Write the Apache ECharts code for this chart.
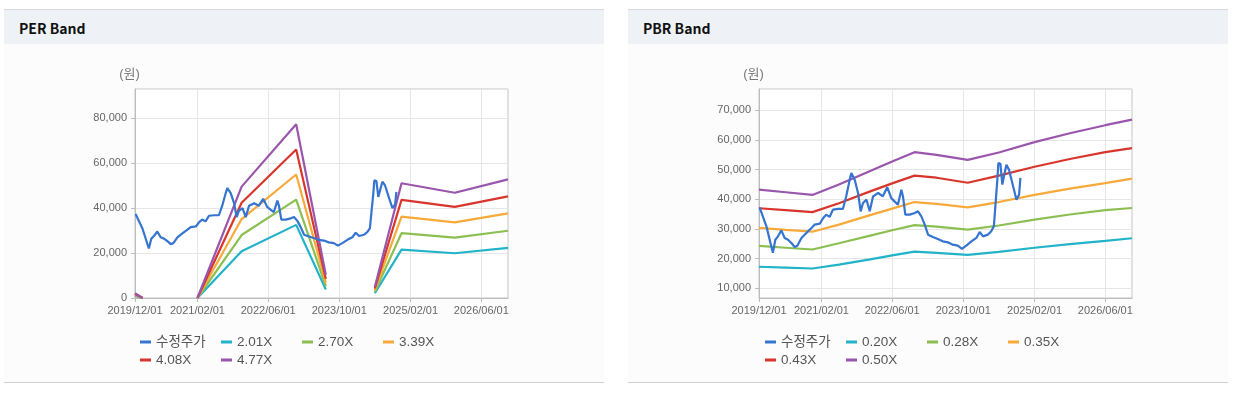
<!DOCTYPE html>
<html>
<head>
<meta charset="utf-8">
<script src="https://cdn.jsdelivr.net/npm/echarts@6/dist/echarts.min.js"></script>
<style>
body{margin:0;background:#fff;width:1239px;height:393px;overflow:hidden;font-family:"Noto Sans CJK KR","Noto Sans",sans-serif}
.panel{position:absolute;top:9px;width:600px;height:372px;border-top:1px solid #d9d9d9;border-bottom:1px solid #d0d0d0;background:#fcfcfc}
.head{height:34px;background:#eef2f7;font-weight:bold;font-size:14px;line-height:36px;padding-left:15px;color:#111}
#chart{position:absolute;left:0;top:0;width:1239px;height:393px}
</style>
</head>
<body>
<div class="panel" style="left:4px"><div class="head">PER Band</div></div>
<div class="panel" style="left:628px"><div class="head">PBR Band</div></div>
<div id="chart"></div>
<script>
// x axis
var xStart = '2019-12-01', xEnd = '2026-12-01';
var xTickDates = ['2019-12-01', '2021-02-01', '2022-06-01', '2023-10-01', '2025-02-01', '2026-06-01'];

// 수정주가 (same in both charts)
var priceDates = ['2019-12-05', '2020-01-21', '2020-03-05', '2020-03-22', '2020-04-09', '2020-05-02', '2020-05-25', '2020-06-17',
    '2020-07-10', '2020-08-02', '2020-08-20', '2020-09-17', '2020-10-21', '2020-11-25', '2020-12-17', '2021-01-21',
    '2021-02-13', '2021-03-06', '2021-03-29', '2021-04-21', '2021-05-25', '2021-06-28', '2021-07-21', '2021-08-14',
    '2021-08-25', '2021-09-17', '2021-10-10', '2021-10-28', '2021-11-13', '2021-12-07', '2021-12-29', '2022-01-21',
    '2022-02-25', '2022-03-29', '2022-04-28', '2022-05-25', '2022-06-17', '2022-07-10', '2022-08-03', '2022-08-14',
    '2022-08-30', '2022-09-29', '2022-11-03', '2022-11-25', '2022-12-18', '2023-01-10', '2023-02-02', '2023-03-07',
    '2023-04-10', '2023-05-14', '2023-06-18', '2023-07-21', '2023-08-25', '2023-09-22', '2023-10-22', '2023-11-26',
    '2023-12-30', '2024-01-22', '2024-02-14', '2024-03-18', '2024-04-10', '2024-04-28', '2024-05-10', '2024-05-21',
    '2024-05-29', '2024-06-12', '2024-06-25', '2024-07-11', '2024-07-23', '2024-08-10', '2024-09-07', '2024-09-30',
    '2024-10-18', '2024-10-27'];
var priceValues = [37300, 30900, 22000, 26400, 27550, 29560, 27000, 26400,
    25300, 23950, 24400, 27000, 28700, 30370, 31500, 31800,
    33740, 34850, 34070, 36550, 36780, 36780, 41030, 46650,
    48900, 46650, 42150, 35970, 38800, 39900, 35970, 41030,
    42150, 41030, 44100, 40500, 39330, 38220, 43270, 41000,
    34850, 34850, 35420, 35970, 34280, 31500, 28110, 27330,
    26660, 25850, 25520, 24740, 24400, 23290, 24400, 25850,
    27000, 29000, 27540, 28110, 29230, 30900, 38800, 46000,
    52270, 52000, 44960, 48900, 51700, 50020, 44400, 39900,
    41600, 47220];

// PER band ('-' = no value)
var perDates = ['2019-12-01', '2020-01-22', '2020-06-01', '2021-02-01', '2021-12-01', '2022-12-10', '2023-07-01',
    '2024-01-01', '2024-06-01', '2024-12-01', '2025-12-01', '2026-12-01'];
var per201 = [900, 0, '-', 0, 20800, 32500, 3800, '-', 2100, 21500, 19900, 22300];
var per270 = [1200, 0, '-', 0, 28000, 43700, 5300, '-', 2800, 28800, 26800, 29900];
var per339 = [1500, 0, '-', 0, 35100, 54900, 6800, '-', 3500, 36200, 33600, 37600];
var per408 = [1800, 0, '-', 0, 42300, 66000, 8500, '-', 4200, 43600, 40500, 45200];
var per477 = [2100, 0, '-', 0, 49500, 77200, 10300, '-', 4900, 51000, 46800, 52700];

// PBR band
var pbrDates = ['2019-12-01', '2020-06-01', '2020-12-01', '2021-06-01', '2022-01-01', '2022-06-01', '2022-11-01',
    '2023-04-01', '2023-11-01', '2024-06-01', '2025-02-01', '2025-10-01', '2026-06-01', '2026-12-01'];
var pbr020 = [17300, 17000, 16700, 18000, 19800, 21100, 22400, 22000, 21300, 22300, 23700, 24900, 26000, 26900];
var pbr028 = [24300, 23700, 23100, 25200, 27800, 29600, 31300, 30800, 29800, 31200, 33200, 34900, 36400, 37100];
var pbr035 = [30400, 29700, 29100, 31500, 34700, 36900, 39100, 38500, 37300, 39100, 41500, 43600, 45500, 47000];
var pbr043 = [37000, 36400, 35700, 38700, 42700, 45400, 48000, 47300, 45600, 48000, 51000, 53600, 55900, 57300];
var pbr050 = [43300, 42400, 41500, 45000, 49600, 52800, 55900, 55000, 53300, 55800, 59300, 62300, 65000, 66900];

var perNames = ['2.01X', '2.70X', '3.39X', '4.08X', '4.77X'];
var pbrNames = ['0.20X', '0.28X', '0.35X', '0.43X', '0.50X'];
var bandColors = ['#22b3c9', '#8cbf52', '#f7aa3a', '#d8352c', '#9a56ac'];
var priceColor = '#3574cf';
var font = '"Liberation Sans", "Noto Sans CJK KR", sans-serif';

function ts(s) {
    var p = s.split('-');
    return new Date(+p[0], +p[1] - 1, +p[2]).getTime();
}
function pad(n) { return n < 10 ? '0' + n : '' + n; }
function fmtDate(v) {
    var d = new Date(v);
    return d.getFullYear() + '/' + pad(d.getMonth() + 1) + '/' + pad(d.getDate());
}
function pairs(dates, vals) {
    return dates.map(function (d, i) { return [ts(d), vals[i]]; });
}

var tickVals = xTickDates.map(ts);
var gridLeft = [135, 759];

// dates as timestamps on a linear axis, ticks only at the six label dates
function xAxis(idx) {
    return {
        type: 'value', gridIndex: idx, min: ts(xStart), max: ts(xEnd), scale: true,
        axisLine: {lineStyle: {color: '#bdbdbd'}},
        axisTick: {show: true, length: 4, customValues: tickVals, lineStyle: {color: '#bdbdbd'}},
        axisLabel: {customValues: tickVals, formatter: fmtDate, color: '#666', fontSize: 11, fontFamily: font, margin: 7},
        splitLine: {show: true, lineStyle: {color: '#e6e6e6'}}
    };
}
function yAxis(idx, opts) {
    var a = {
        type: 'value', gridIndex: idx, name: '(원)', nameLocation: 'end', nameGap: 8,
        nameTextStyle: {color: '#777', fontSize: 13, fontFamily: font, align: 'center', padding: [0, 11, 0, 0]},
        axisLine: {show: true, lineStyle: {color: '#bdbdbd'}},
        axisTick: {show: true, length: 4, lineStyle: {color: '#bdbdbd'}},
        axisLabel: {color: '#666', fontSize: 11, fontFamily: font, margin: 8, showMinLabel: opts.showMin, showMaxLabel: false},
        splitLine: {show: true, lineStyle: {color: '#e6e6e6'}}
    };
    for (var k in opts.range) a[k] = opts.range[k];
    return a;
}
// four fixed 81px columns: marker 11 + gap 5 + text 65
function legend(left, names) {
    return {
        left: left, top: 333, width: 330, padding: 0, orient: 'horizontal', icon: 'rect',
        itemWidth: 11, itemHeight: 3, itemGap: 0,
        data: ['수정주가'].concat(names),
        textStyle: {width: 65, fontSize: 13.5, lineHeight: 18, color: '#555', fontFamily: font}
    };
}
function line(name, idx, data, color) {
    return {
        name: name, type: 'line', xAxisIndex: idx, yAxisIndex: idx, data: data,
        showSymbol: false, symbol: 'none', connectNulls: false, animation: false,
        lineStyle: {width: 2.2, color: color}, itemStyle: {color: color}
    };
}

var perBands = [per201, per270, per339, per408, per477];
var pbrBands = [pbr020, pbr028, pbr035, pbr043, pbr050];
var series = [];
perBands.forEach(function (vals, i) {
    series.push(line(perNames[i], 0, pairs(perDates, vals), bandColors[i]));
});
series.push(line('수정주가', 0, pairs(priceDates, priceValues), priceColor));
pbrBands.forEach(function (vals, i) {
    series.push(line(pbrNames[i], 1, pairs(pbrDates, vals), bandColors[i]));
});
series.push(line('수정주가', 1, pairs(priceDates, priceValues), priceColor));

var myChart = echarts.init(document.getElementById('chart'));
myChart.setOption({
    animation: false,
    grid: [
        {left: gridLeft[0], top: 89, width: 373, height: 209, show: true, borderColor: '#c4c4c4', backgroundColor: '#fff'},
        {left: gridLeft[1], top: 89, width: 373, height: 209, show: true, borderColor: '#c4c4c4', backgroundColor: '#fff'}
    ],
    xAxis: [xAxis(0), xAxis(1)],
    yAxis: [
        yAxis(0, {showMin: true, range: {min: 0, max: 92900, interval: 20000}}),
        yAxis(1, {showMin: false, range: {min: 6760, max: 77200, splitNumber: 7}})
    ],
    legend: [legend(140, perNames), legend(765, pbrNames)],
    series: series
});
</script>
</body>
</html>
